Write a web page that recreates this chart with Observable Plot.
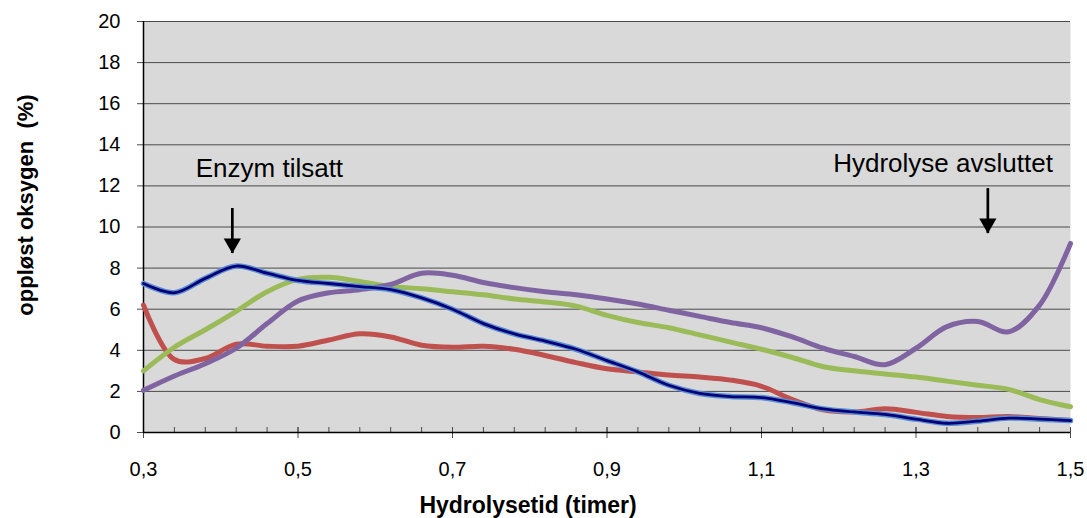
<!DOCTYPE html>
<html><head><meta charset="utf-8">
<script src="https://cdn.jsdelivr.net/npm/d3@7"></script>
<script src="https://cdn.jsdelivr.net/npm/@observablehq/plot@0.6"></script>
<style>
body{margin:0;background:#fff;}
svg{display:block;}
</style>
</head><body><div id="chart"></div>
<script>
// Hydrolysetid (timer) — category positions
const hours = [0.30,0.34,0.38,0.42,0.46,0.50,0.54,0.58,0.62,0.66,0.70,0.74,0.78,0.82,0.86,0.90,0.94,0.98,1.02,1.06,1.10,1.14,1.18,1.22,1.26,1.30,1.34,1.38,1.42,1.46,1.50];

// oppløst oksygen (%)
const blueSeries   = [7.25,6.8,7.5,8.1,7.75,7.4,7.25,7.1,6.95,6.55,6.0,5.3,4.8,4.45,4.05,3.5,2.95,2.3,1.9,1.75,1.7,1.45,1.15,1.0,0.88,0.65,0.45,0.55,0.7,0.65,0.58];
const redSeries    = [6.2,3.55,3.6,4.3,4.2,4.2,4.5,4.8,4.65,4.25,4.15,4.2,4.05,3.75,3.4,3.1,2.95,2.8,2.7,2.55,2.25,1.6,1.1,1.0,1.15,0.98,0.78,0.73,0.78,0.68,0.58];
const greenSeries  = [3.0,4.15,5.0,5.9,6.85,7.45,7.55,7.35,7.1,7.0,6.85,6.7,6.5,6.35,6.15,5.7,5.35,5.1,4.75,4.4,4.05,3.65,3.2,3.0,2.85,2.7,2.5,2.3,2.1,1.6,1.25];
const purpleSeries = [2.05,2.75,3.35,4.1,5.3,6.4,6.8,6.95,7.2,7.75,7.65,7.3,7.05,6.85,6.7,6.5,6.25,5.95,5.65,5.35,5.1,4.65,4.1,3.7,3.3,4.1,5.15,5.4,4.9,6.2,9.2];

// axes
const yTicks = [0,2,4,6,8,10,12,14,16,18,20];
const xLabelTicks = [0.3,0.5,0.7,0.9,1.1,1.3,1.5];
const xMinorTicks = hours;

// annotations
const annotText = ["Enzym tilsatt","Hydrolyse avsluttet"];
const annotTextX = [0.463,1.335];
const annotTextY = [12.86,13.06];
const arrowX = [0.415,1.393];
const arrowTop = [10.9,11.87];
const arrowTip = [8.71,9.68];

const toRows = (vals) => hours.map((h,i)=>({h, v: vals[i]}));
const annots = annotText.map((t,i)=>({t, x: annotTextX[i], y: annotTextY[i]}));
const arrows = arrowX.map((x,i)=>({x, top: arrowTop[i], tip: arrowTip[i]}));
const fmt = d => d.toFixed(1).replace(".", ",");

const chart = Plot.plot({
  width: 1087, height: 518,
  marginLeft: 143, marginRight: 17, marginTop: 21, marginBottom: 86,
  style: {fontFamily: '"Liberation Sans", Arial, sans-serif', fontSize: "20px", color: "#000", background: "#fff", overflow: "visible"},
  x: {domain: [0.3,1.5], axis: null},
  y: {domain: [0,20], axis: null},
  marks: [
    Plot.frame({fill: "#d9d9d9", stroke: "none"}),
    Plot.gridY(yTicks, {stroke: "#4a4a4a", strokeOpacity: 1, strokeWidth: 1}),
    Plot.axisY(yTicks, {tickSize: 6, tickPadding: 17, fontSize: 20, stroke: "#4a4a4a", fill: "#000", tickFormat: d => String(d)}),
    Plot.axisX(xMinorTicks, {tickSize: 5, dy: -5, stroke: "#4a4a4a", tickFormat: () => ""}),
    Plot.axisX(xLabelTicks, {tickSize: 11, dy: -5, stroke: "#4a4a4a", tickFormat: () => ""}),
    Plot.axisX(xLabelTicks, {tickSize: 0, tickPadding: 29, fontSize: 20, fill: "#000", tickFormat: fmt}),
    Plot.ruleX([0.3], {stroke: "#000", strokeWidth: 1.5}),
    Plot.ruleY([0], {stroke: "#000", strokeWidth: 1.5}),
    Plot.line(toRows(redSeries), {x: "h", y: "v", stroke: "#c0504d", strokeWidth: 5, curve: "catmull-rom"}),
    Plot.line(toRows(greenSeries), {x: "h", y: "v", stroke: "#9bbb59", strokeWidth: 5, curve: "catmull-rom"}),
    Plot.line(toRows(purpleSeries), {x: "h", y: "v", stroke: "#8064a2", strokeWidth: 5, curve: "catmull-rom"}),
    Plot.line(toRows(blueSeries), {x: "h", y: "v", stroke: "#5b8fd0", strokeWidth: 5.5, curve: "catmull-rom"}),
    Plot.line(toRows(blueSeries), {x: "h", y: "v", stroke: "#00007a", strokeWidth: 2.8, curve: "catmull-rom"}),
    Plot.ruleX(arrows, {x: "x", y1: "top", y2: "tip", stroke: "#000", strokeWidth: 2.7}),
    Plot.dot(arrows, {x: "x", y: "tip", symbol: "triangle", r: 6.4, rotate: 180, fill: "#000", stroke: "none", dy: -10}),
    Plot.text(annots, {x: "x", y: "y", text: "t", fontSize: 26, fill: "#000"}),
    Plot.text(["Hydrolysetid (timer)"], {frameAnchor: "bottom", textAnchor: "middle", lineAnchor: "middle", dx: -79, dy: 73, fontSize: 23, fontWeight: "bold", fill: "#000"}),
    Plot.text(["oppløst oksygen\u00a0\u00a0(%)"], {frameAnchor: "left", textAnchor: "middle", lineAnchor: "middle", dx: -118, dy: -22, rotate: -90, fontSize: 22, fontWeight: "bold", fill: "#000"})
  ]
});
document.getElementById("chart").appendChild(chart);
</script>
</body></html>
